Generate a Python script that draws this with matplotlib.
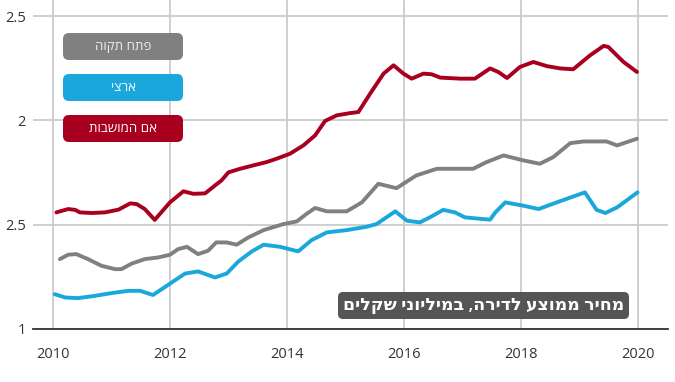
import matplotlib
matplotlib.use("Agg")
import matplotlib.pyplot as plt
from matplotlib.patches import FancyBboxPatch

plt.rcParams["font.family"] = ["Open Sans", "DejaVu Sans"]

# values (millions of shekels)
red_years = [2010.06, 2010.26, 2010.38, 2010.46, 2010.66, 2010.89, 2011.12, 2011.32,
             2011.43, 2011.57, 2011.74, 2012.0, 2012.23, 2012.40, 2012.60, 2012.77,
             2012.88, 2013.0, 2013.2, 2013.42, 2013.65, 2013.82, 2014.05, 2014.28,
             2014.48, 2014.65, 2014.85, 2015.08, 2015.22, 2015.42, 2015.65, 2015.82,
             2015.99, 2016.13, 2016.33, 2016.47, 2016.62, 2016.96, 2017.21, 2017.47,
             2017.61, 2017.76, 2017.98, 2018.21, 2018.44, 2018.67, 2018.89, 2019.18,
             2019.41, 2019.49, 2019.75, 2019.98]
red_vals = [1.559, 1.575, 1.571, 1.559, 1.556, 1.559, 1.572, 1.602,
            1.599, 1.575, 1.523, 1.607, 1.660, 1.648, 1.650, 1.688,
            1.712, 1.751, 1.768, 1.784, 1.800, 1.816, 1.840, 1.880,
            1.928, 1.997, 2.024, 2.035, 2.040, 2.128, 2.224, 2.264,
            2.224, 2.200, 2.224, 2.221, 2.205, 2.200, 2.200, 2.249,
            2.232, 2.203, 2.256, 2.280, 2.260, 2.249, 2.245, 2.312,
            2.357, 2.352, 2.280, 2.232]

gray_years = [2010.12, 2010.26, 2010.40, 2010.60, 2010.83, 2011.06, 2011.17, 2011.35,
              2011.57, 2011.80, 2012.0, 2012.14, 2012.29, 2012.48, 2012.65, 2012.79,
              2012.97, 2013.14, 2013.34, 2013.60, 2013.94, 2014.17, 2014.33, 2014.48,
              2014.68, 2015.02, 2015.28, 2015.56, 2015.87, 2016.21, 2016.56, 2017.18,
              2017.41, 2017.70, 2018.04, 2018.32, 2018.55, 2018.84, 2019.07, 2019.46,
              2019.64, 2019.98]
gray_vals = [1.335, 1.356, 1.359, 1.335, 1.303, 1.287, 1.287, 1.314,
             1.335, 1.343, 1.356, 1.383, 1.394, 1.359, 1.375, 1.415,
             1.415, 1.404, 1.439, 1.474, 1.503, 1.516, 1.551, 1.580,
             1.564, 1.564, 1.607, 1.696, 1.675, 1.736, 1.768, 1.768,
             1.800, 1.832, 1.808, 1.792, 1.824, 1.891, 1.899, 1.899,
             1.880, 1.912]

blue_years = [2010.03, 2010.21, 2010.43, 2010.72, 2011.0, 2011.29, 2011.49, 2011.71,
              2011.86, 2012.03, 2012.26, 2012.48, 2012.77, 2012.97, 2013.17, 2013.40,
              2013.60, 2013.88, 2014.19, 2014.42, 2014.68, 2015.02, 2015.36, 2015.53,
              2015.85, 2016.05, 2016.27, 2016.44, 2016.67, 2016.87, 2017.04, 2017.47,
              2017.56, 2017.73, 2018.04, 2018.30, 2018.61, 2019.09, 2019.29, 2019.44,
              2019.64, 2019.99]
blue_vals = [1.167, 1.151, 1.148, 1.159, 1.172, 1.183, 1.183, 1.163,
             1.191, 1.223, 1.266, 1.276, 1.247, 1.266, 1.324, 1.372,
             1.404, 1.394, 1.372, 1.426, 1.463, 1.474, 1.490, 1.503,
             1.564, 1.519, 1.511, 1.535, 1.571, 1.559, 1.535, 1.524,
             1.559, 1.607, 1.591, 1.575, 1.607, 1.655, 1.571, 1.556,
             1.583, 1.655]

series_names = ["פתח תקוה", "ארצי", "אם המושבות"]
series_colors = ["#808080", "#1aa8dc", "#a8001e"]
x_ticks = [2010, 2012, 2014, 2016, 2018, 2020]
y_ticks = [1, 1.5, 2, 2.5]
y_tick_labels = ["1", "2.5", "2", "2.5"]  # as printed on the original
title = "מחיר ממוצע לדירה, במיליוני שקלים"


def rtl(s):
    # matplotlib lays glyphs out left to right
    return s[::-1]


fig = plt.figure(figsize=(6.75, 3.82), dpi=100)
ax = fig.add_axes([33 / 675, 53 / 382, 635 / 675, 329 / 382])

for yrs, vals, c in zip([gray_years, blue_years, red_years],
                        [gray_vals, blue_vals, red_vals], series_colors):
    ax.plot(yrs, vals, color=c, lw=2.8, solid_joinstyle="round",
            solid_capstyle="round", zorder=3)

ax.set_xlim(2009.66, 2020.51)
ax.set_ylim(1.0, 2.577)
ax.set_xticks(x_ticks)
ax.set_yticks(y_ticks)
ax.set_yticklabels(y_tick_labels)
ax.grid(True, color="#cccccc", lw=1.3)
ax.set_axisbelow(True)
for side in ["top", "right", "left"]:
    ax.spines[side].set_visible(False)
ax.spines["bottom"].set_color("#333333")
ax.spines["bottom"].set_linewidth(1.3)
ax.tick_params(axis="both", length=0, labelsize=10.5, colors="#333333")
ax.tick_params(axis="x", pad=13)
ax.tick_params(axis="y", pad=5)

# legend boxes, pixel positions converted to inches
box_tops = [33, 74, 115]
for name, c, top in zip(series_names, series_colors, box_tops):
    y0 = (382 - top - 27) / 100
    fig.add_artist(FancyBboxPatch((0.63, y0), 1.20, 0.27,
                                  boxstyle="round,pad=0,rounding_size=0.06",
                                  transform=fig.dpi_scale_trans,
                                  facecolor=c, edgecolor="none"))
    fig.text(1.23, y0 + 0.135, rtl(name), transform=fig.dpi_scale_trans,
             ha="center", va="center", fontsize=9.5,
             color="#eeeeee" if c == "#808080" else "white")

fig.add_artist(FancyBboxPatch((3.38, (382 - 319) / 100), 2.91, 0.27,
                              boxstyle="round,pad=0,rounding_size=0.05",
                              transform=fig.dpi_scale_trans,
                              facecolor="#555555", edgecolor="none"))
fig.text(4.835, (382 - 305.5) / 100, rtl(title), transform=fig.dpi_scale_trans,
         ha="center", va="center", fontsize=12.5, fontweight="semibold",
         color="white")

fig.savefig("out.png", dpi=100)
